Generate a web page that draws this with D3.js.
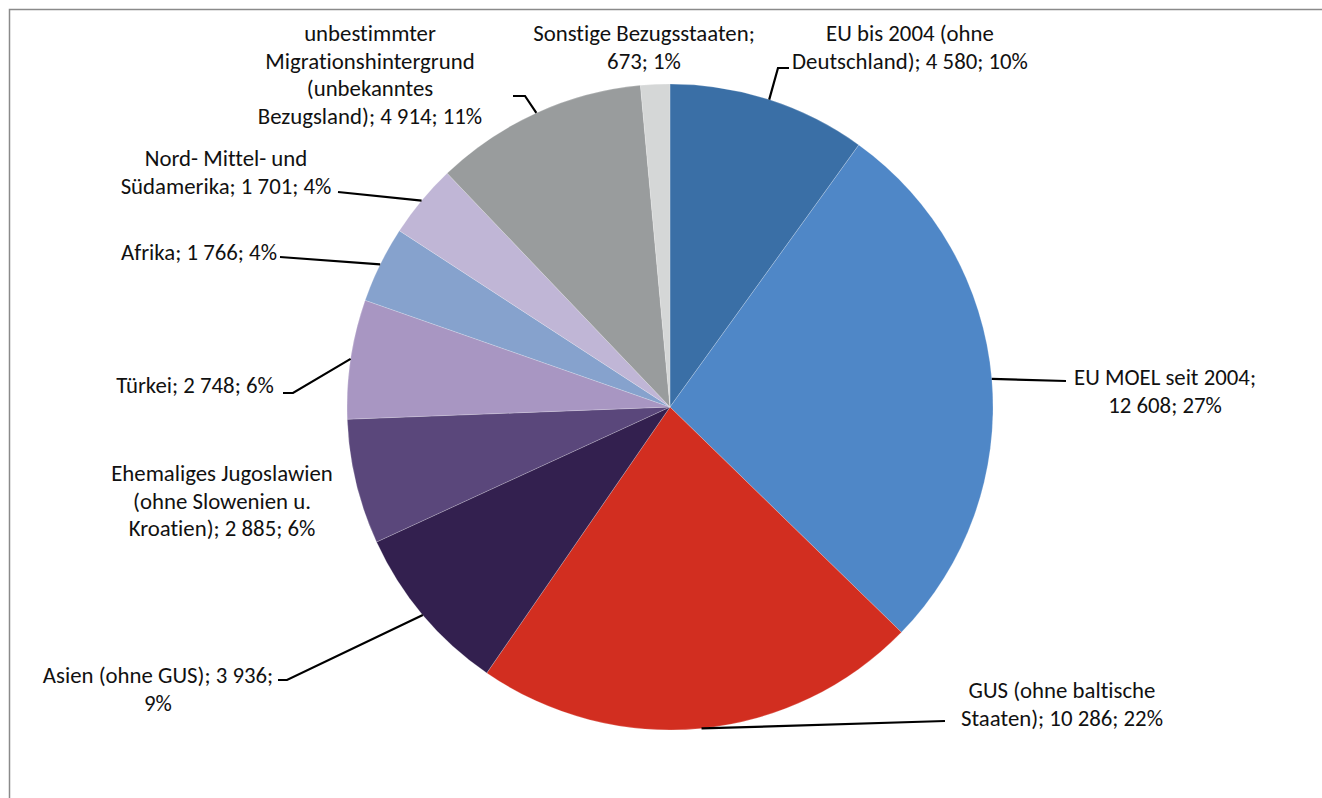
<!DOCTYPE html>
<html>
<head>
<meta charset="utf-8">
<script src="https://cdn.jsdelivr.net/npm/d3@7"></script>
<style>
  html, body { margin: 0; padding: 0; background: #fff; }
  svg { display: block; }
  text { font-family: Carlito, "Open Sans", "Noto Sans", sans-serif; fill: #111;
         font-variant-ligatures: none; font-feature-settings: "liga" 0; }
</style>
</head>
<body>
<svg id="chart" width="1322" height="798"></svg>
<script>
// Bezugsländer, values (persons) and slice colours, clockwise from 12 o'clock
const categories = [
  "EU bis 2004 (ohne Deutschland)",
  "EU MOEL seit 2004",
  "GUS (ohne baltische Staaten)",
  "Asien (ohne GUS)",
  "Ehemaliges Jugoslawien (ohne Slowenien u. Kroatien)",
  "Türkei",
  "Afrika",
  "Nord- Mittel- und Südamerika",
  "unbestimmter Migrationshintergrund (unbekanntes Bezugsland)",
  "Sonstige Bezugsstaaten"
];
const values = [4580, 12608, 10286, 3936, 2885, 2748, 1766, 1701, 4914, 673];
const colors = ["#3A6FA6", "#4F87C7", "#D22E20", "#33204F", "#5A477B",
                "#A896C2", "#86A2CD", "#C0B6D6", "#999C9D", "#D5D7D7"];

// Label text as printed (line breaks included)
const labelLines = [
  ["EU bis 2004 (ohne", "Deutschland); 4 580; 10%"],
  ["EU MOEL seit 2004;", "12 608; 27%"],
  ["GUS (ohne baltische", "Staaten); 10 286; 22%"],
  ["Asien (ohne GUS); 3 936;", "9%"],
  ["Ehemaliges Jugoslawien", "(ohne Slowenien u.", "Kroatien); 2 885; 6%"],
  ["Türkei; 2 748; 6%"],
  ["Afrika; 1 766; 4%"],
  ["Nord- Mittel- und", "Südamerika; 1 701; 4%"],
  ["unbestimmter", "Migrationshintergrund", "(unbekanntes", "Bezugsland); 4 914; 11%"],
  ["Sonstige Bezugsstaaten;", "673; 1%"]
];

// Label layout: text centre x, first-line centre y, and leader start/bend points
const labelLayout = [
  { x: 910, y: 33, leader: [[789, 68], [778, 68]] },
  { x: 1165, y: 377, leader: [[1066, 381]] },
  { x: 1062, y: 690, leader: [[945, 721]] },
  { x: 158, y: 675, leader: [[278, 680], [287, 680]] },
  { x: 222, y: 473, leader: null },
  { x: 195, y: 385, leader: [[283, 393], [293, 393]] },
  { x: 199, y: 252, leader: [[280, 257]] },
  { x: 226, y: 158, leader: [[338, 192]] },
  { x: 370, y: 33, leader: [[513, 96], [525, 96]] },
  { x: 644, y: 33, leader: null }
];

const svg = d3.select("#chart");
const cx = 670, cy = 407, R = 323;
const lineH = 27.5;

// Chart area frame
svg.append("rect")
  .attr("x", 9.5).attr("y", 9.5)
  .attr("width", 1400).attr("height", 900)
  .attr("fill", "none").attr("stroke", "#8a8a8a").attr("stroke-width", 1.5);

const data = categories.map((c, i) => ({ name: c, value: values[i], color: colors[i], i }));
const pie = d3.pie().value(d => d.value).sort(null);
const arcs = pie(data);
const arc = d3.arc().innerRadius(0).outerRadius(R);

const g = svg.append("g").attr("transform", `translate(${cx},${cy})`);
g.selectAll("path.slice")
  .data(arcs)
  .join("path")
  .attr("class", "slice")
  .attr("d", arc)
  .attr("fill", d => d.data.color)
  .attr("stroke", "#ffffff")
  .attr("stroke-width", 0.4)
  .attr("stroke-opacity", 0.5);

// Leader lines from label to the slice's outer edge at its mid-angle
arcs.forEach((a, i) => {
  const lay = labelLayout[i];
  if (!lay.leader) return;
  const mid = (a.startAngle + a.endAngle) / 2;
  const edge = [cx + R * Math.sin(mid), cy - R * Math.cos(mid)];
  const pts = lay.leader.concat([edge]);
  svg.append("path")
    .attr("d", d3.line()(pts))
    .attr("fill", "none")
    .attr("stroke", "#000")
    .attr("stroke-width", 2.2);
});

// Pick a font size so the label face runs at the intended width
const probe = svg.append("text").attr("font-size", 20).text("Deutschland); 4 580; 10%");
const probeW = probe.node().getComputedTextLength();
probe.remove();
const fontSize = Math.max(16, Math.min(24, 20 * 236 / probeW));

// Data labels
arcs.forEach((a, i) => {
  const lay = labelLayout[i];
  const t = svg.append("text")
    .attr("text-anchor", "middle")
    .attr("font-size", fontSize);
  labelLines[i].forEach((ln, k) => {
    t.append("tspan")
      .attr("x", lay.x)
      .attr("y", lay.y + k * lineH)
      .attr("dy", "0.36em")
      .text(ln);
  });
});
</script>
</body>
</html>
